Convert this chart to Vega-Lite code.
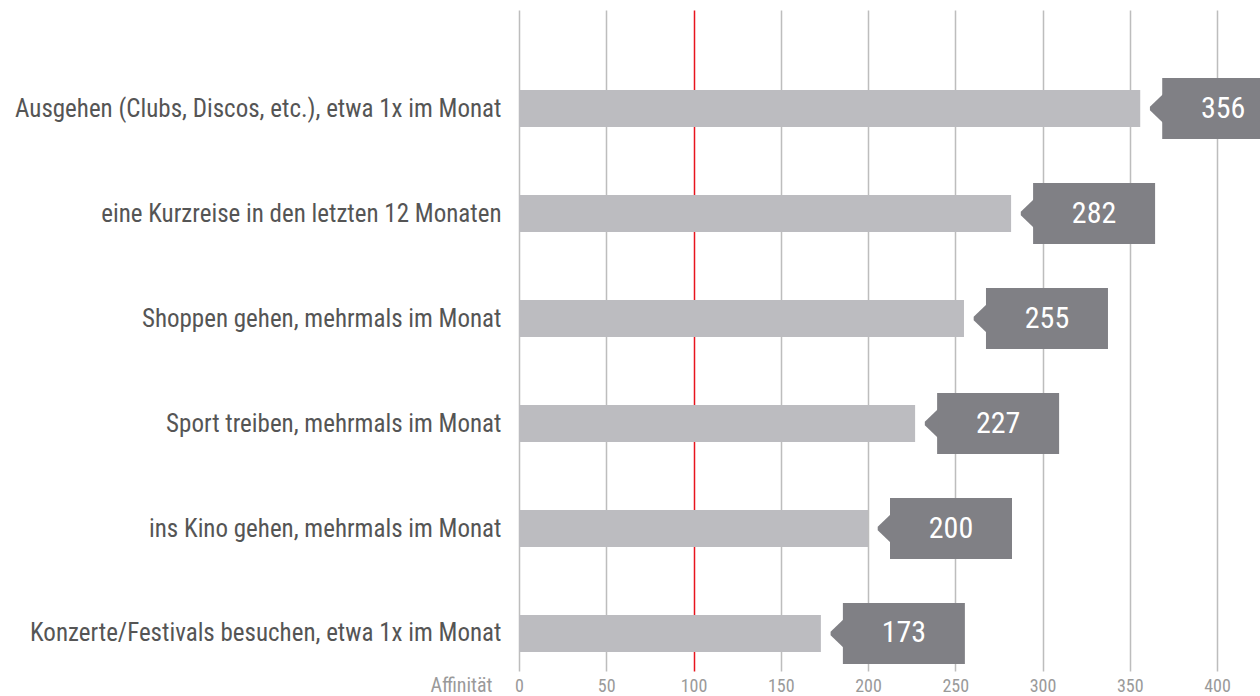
{
  "$schema": "https://vega.github.io/schema/vega-lite/v6.json",
  "width": 698,
  "height": 661,
  "autosize": {"type": "none"},
  "padding": {"left": 519, "top": 10, "right": 43, "bottom": 25},
  "background": "white",
  "config": {
    "view": {"stroke": null},
    "font": "Roboto Condensed, Roboto",
    "axisX": {
      "domain": false,
      "ticks": false,
      "grid": true,
      "gridWidth": 1.5,
      "labelFont": "Roboto Condensed, Roboto",
      "labelFontSize": 18,
      "labelColor": "#9a9a9a",
      "labelPadding": 6,
      "labelBaseline": "top",
      "labelFlush": false,
      "labelOverlap": false,
      "titleFont": "Roboto Condensed, Roboto",
      "titleFontSize": 20,
      "titleFontWeight": "normal",
      "titleColor": "#9a9a9a",
      "titleAlign": "right",
      "titleBaseline": "top",
      "titleX": -27,
      "titleY": 4
    },
    "axisY": {
      "domain": false,
      "ticks": false,
      "grid": false,
      "labelFont": "Roboto Condensed, Roboto",
      "labelFontSize": 25,
      "labelColor": "#555555",
      "labelPadding": 18,
      "labelLimit": 700
    }
  },
  "data": {
    "values": [
      {"label": "Ausgehen (Clubs, Discos, etc.), etwa 1x im Monat", "value": 356},
      {"label": "eine Kurzreise in den letzten 12 Monaten", "value": 282},
      {"label": "Shoppen gehen, mehrmals im Monat", "value": 255},
      {"label": "Sport treiben, mehrmals im Monat", "value": 227},
      {"label": "ins Kino gehen, mehrmals im Monat", "value": 200},
      {"label": "Konzerte/Festivals besuchen, etwa 1x im Monat", "value": 173}
    ]
  },
  "encoding": {
    "y": {"field": "label", "type": "nominal", "sort": null, "title": null,
          "scale": {"paddingInner": 0.2857, "paddingOuter": 0.2905, "align": 1}}
  },
  "layer": [
    {
      "mark": {"type": "bar", "height": 37, "color": "#bcbcc0"},
      "encoding": {
        "x": {"field": "value", "type": "quantitative", "title": "Affinität",
              "scale": {"domain": [0, 400], "nice": false},
              "axis": {"values": [0, 50, 100, 150, 200, 250, 300, 350, 400],
                       "gridColor": {"condition": {"test": "datum.value === 100", "value": "#e8141e"}, "value": "#bdbdbd"}}}
      }
    },
    {
      "mark": {"type": "bar", "height": 61, "color": "#808085", "xOffset": 22, "x2Offset": 144},
      "encoding": {
        "x": {"field": "value", "type": "quantitative"},
        "x2": {"field": "value"}
      }
    },
    {
      "mark": {"type": "point", "filled": true, "opacity": 1, "color": "#808085", "size": 900, "xOffset": 22,
               "shape": "M 0.1 -1 L -0.82 -0.12 L -0.82 0.12 L 0.1 1 Z"},
      "encoding": {
        "x": {"field": "value", "type": "quantitative"}
      }
    },
    {
      "mark": {"type": "text", "xOffset": 83, "align": "center", "baseline": "middle", "fontSize": 30,
               "color": "white", "font": "Roboto Condensed, Roboto"},
      "encoding": {
        "x": {"field": "value", "type": "quantitative"},
        "text": {"field": "value", "type": "quantitative"}
      }
    }
  ]
}
